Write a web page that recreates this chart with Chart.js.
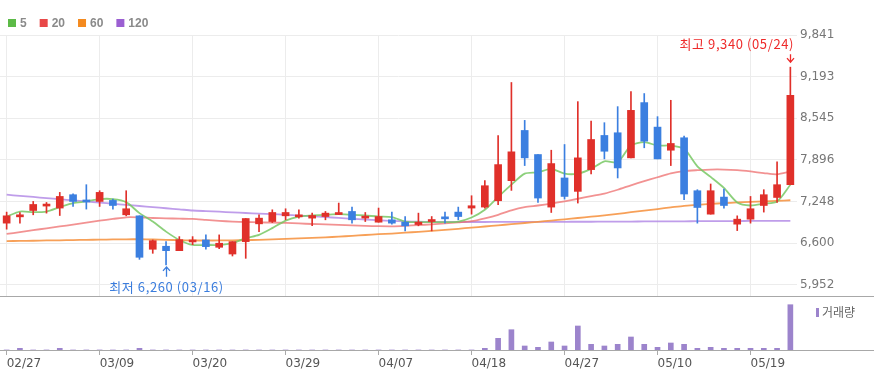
<!DOCTYPE html>
<html>
<head>
<meta charset="utf-8">
<script src="https://cdn.jsdelivr.net/npm/chart.js@4/dist/chart.umd.min.js"></script>
<style>
    body { margin: 0; background: #fff; width: 874px; height: 377px; overflow: hidden; position: relative; }
    #priceBox { position: absolute; left: 0; top: 0; }
    #volumeBox { position: absolute; left: 0; top: 297px; }
</style>
</head>
<body>
<div id="priceBox"><canvas id="priceChart" width="874" height="297"></canvas></div>
<div id="volumeBox"><canvas id="volumeChart" width="874" height="80"></canvas></div>
<script>
// trading days (2023)
const dates = ['02/27','02/28','03/02','03/03','03/06','03/07','03/08','03/09','03/10','03/13',
    '03/14','03/15','03/16','03/17','03/20','03/21','03/22','03/23','03/24','03/27',
    '03/28','03/29','03/30','03/31','04/03','04/04','04/05','04/06','04/07','04/10',
    '04/11','04/12','04/13','04/14','04/17','04/18','04/19','04/20','04/21','04/24',
    '04/25','04/26','04/27','04/28','05/02','05/03','05/04','05/08','05/09','05/10',
    '05/11','05/12','05/15','05/16','05/17','05/18','05/19','05/22','05/23','05/24'];

const openPrices = [6910,7008,7107,7176,7145,7353,7256,7248,7264,7040,
    7024,6503,6550,6481,6617,6648,6534,6429,6622,6899,
    6935,7024,7008,6988,7013,7044,7092,6988,6925,6962,
    6925,6888,6935,6998,7082,7145,7160,7259,7572,8354,
    7979,7160,7614,7405,7744,8276,8318,7927,8788,8406,
    8046,8240,7415,7050,7316,6894,6972,7185,7310,7509];
const highPrices = [7082,7076,7248,7232,7389,7368,7509,7415,7286,7415,
    7024,6648,6622,6700,6700,6727,6727,6622,6982,7040,
    7118,7134,7118,7066,7092,7223,7160,7076,7145,7082,
    7013,7066,7013,7082,7160,7337,7572,8276,9101,8511,
    7979,8046,8135,8803,8500,8475,8725,8960,8929,8569,
    8824,8265,7431,7520,7442,7024,7326,7431,7864,9340];
const lowPrices = [6816,6910,7040,7066,7029,7170,7129,7170,7129,7024,
    6346,6440,6260,6481,6575,6503,6512,6398,6362,6778,
    6919,6962,6988,6872,6962,7044,6910,6935,6925,6894,
    6789,6868,6789,6910,6962,7050,7145,7196,7420,7807,
    7232,7076,7285,7223,7677,7911,7614,7927,8084,7911,
    7807,7274,6910,7050,7145,6794,6910,7082,7232,7509];
const closePrices = [7024,7040,7201,7207,7326,7248,7240,7389,7185,7134,
    6378,6637,6481,6653,6648,6544,6597,6622,6982,6988,
    7076,7076,7035,7029,7066,7066,6962,7013,7013,6910,
    6868,6925,6950,6977,7013,7181,7493,7822,8021,7927,
    7301,7838,7326,7927,8213,8030,7770,8667,8187,7911,
    8151,7364,7154,7415,7185,6972,7134,7353,7509,8902];

const ma5 = [7013,7091,7082,7091,7160,7223,7248,7285,7285,7238,
    7066,6935,6778,6648,6570,6570,6570,6597,6675,6727,
    6832,6950,7013,7029,7040,7051,7040,7029,7013,7004,
    6935,6925,6925,6925,6935,6998,7118,7317,7509,7681,
    7702,7755,7681,7681,7755,7874,7858,8119,8171,8119,
    8119,8068,7796,7630,7458,7232,7185,7212,7248,7509];
const ma20 = [6742,6770,6800,6830,6858,6888,6918,6948,6975,7001,
    7000,6990,6985,6980,6975,6960,6945,6935,6928,6922,
    6918,6914,6905,6897,6890,6882,6875,6868,6862,6860,
    6868,6880,6890,6905,6922,6940,6985,7040,7110,7160,
    7185,7215,7250,7290,7330,7370,7430,7500,7565,7625,
    7685,7720,7735,7745,7745,7735,7715,7690,7670,7713];
const ma60 = [6630,6633,6636,6640,6643,6647,6650,6653,6656,6658,
    6659,6655,6650,6645,6640,6640,6640,6642,6645,6650,
    6658,6665,6672,6680,6688,6700,6712,6725,6738,6748,
    6762,6775,6790,6805,6822,6840,6858,6876,6894,6912,
    6930,6950,6970,6990,7010,7032,7055,7080,7105,7130,
    7155,7180,7195,7210,7222,7232,7240,7248,7256,7267];
const ma120 = [7353,7335,7318,7300,7283,7265,7248,7230,7212,7195,
    7177,7160,7142,7125,7107,7097,7088,7078,7068,7059,
    7050,7040,7028,7016,7004,6992,6978,6966,6955,6945,
    6936,6932,6930,6929,6928,6928,6928,6929,6929,6930,
    6930,6931,6931,6932,6932,6933,6934,6935,6936,6937,
    6938,6939,6940,6941,6942,6943,6944,6945,6945,6946];

// volume, thousand shares
const volumes = [4,170,3,4,170,3,5,4,3,4,
    170,5,4,3,3,2,3,2,3,3,
    2,3,2,2,3,2,3,2,2,3,
    2,3,2,3,3,4,170,1170,2030,400,
    270,800,400,2400,570,400,570,1300,570,270,
    700,570,170,270,170,170,170,170,170,4530];

const priceTicks = [5952, 6600, 7248, 7896, 8545, 9193, 9841];
const dateTicks = ['02/27','03/09','03/20','03/29','04/07','04/18','04/27','05/10','05/19'];

const UP = '#e0302a';
const DOWN = '#3b7fe0';
const AXIS_W = 77;
const maLegend = [
    { label: '5', color: '#5cba47' },
    { label: '20', color: '#e84848' },
    { label: '60', color: '#f48a1f' },
    { label: '120', color: '#9b5fd2' }
];

const candleColors = openPrices.map((o, i) => closePrices[i] >= o ? UP : DOWN);
const fmt = v => v.toLocaleString('en-US');

function keepDateTicks(scale) {
    scale.ticks = scale.ticks.filter(t => dateTicks.includes(dates[t.value]));
}

// fixed axis width, no extra layout padding from the labels
function fixAxis(scale) {
    if (scale.isHorizontal()) {
        scale.paddingLeft = 0;
        scale.paddingRight = 0;
    } else {
        scale.width = AXIS_W;
        scale.paddingTop = 0;
        scale.paddingBottom = 0;
    }
}

function drawArrow(ctx, x, yFrom, yTo, color) {
    const dir = yTo > yFrom ? 1 : -1;
    ctx.save();
    ctx.strokeStyle = color;
    ctx.lineWidth = 1.3;
    ctx.beginPath();
    ctx.moveTo(x, yFrom);
    ctx.lineTo(x, yTo);
    ctx.moveTo(x - 3.5, yTo - dir * 4);
    ctx.lineTo(x, yTo);
    ctx.lineTo(x + 3.5, yTo - dir * 4);
    ctx.stroke();
    ctx.restore();
}

// legend, panel border and high / low notes
const priceDecor = {
    id: 'priceDecor',
    afterDraw(chart) {
        const ctx = chart.ctx;
        const area = chart.chartArea;
        const xs = chart.scales.x;
        const ys = chart.scales.y;

        ctx.save();
        // MA legend
        ctx.font = 'bold 12px "Liberation Sans", Arial, sans-serif';
        ctx.textBaseline = 'middle';
        let lx = 8;
        maLegend.forEach(item => {
            ctx.fillStyle = item.color;
            ctx.fillRect(lx, 19, 8, 8);
            ctx.fillStyle = '#8a8a8a';
            ctx.fillText(item.label, lx + 12, 23.5);
            lx += 12 + ctx.measureText(item.label).width + 13;
        });

        // bottom border of price panel
        ctx.strokeStyle = '#a8a8a8';
        ctx.lineWidth = 1;
        ctx.beginPath();
        ctx.moveTo(0, area.bottom + 0.5);
        ctx.lineTo(chart.width, area.bottom + 0.5);
        ctx.stroke();

        // highest / lowest
        ctx.font = '13px "Noto Sans CJK KR", sans-serif';
        ctx.letterSpacing = '0.6px';
        const hi = Math.max(...highPrices);
        const hiIdx = highPrices.indexOf(hi);
        const lo = Math.min(...lowPrices);
        const loIdx = lowPrices.indexOf(lo);

        const hx = Math.round(xs.getPixelForValue(hiIdx)) + 0.5;
        const hy = ys.getPixelForValue(hi);
        const hiText = '최고 ' + fmt(hi) + ' (' + dates[hiIdx] + ')';
        const hw = ctx.measureText(hiText).width;
        let tx = hx - hw / 2;
        if (tx + hw > area.right - 3) tx = area.right - 3 - hw;
        ctx.fillStyle = '#ee2a2a';
        ctx.textAlign = 'left';
        ctx.fillText(hiText, tx, hy - 23);
        drawArrow(ctx, hx, hy - 13, hy - 5, '#ee2a2a');

        const bx = Math.round(xs.getPixelForValue(loIdx)) + 0.5;
        const by = ys.getPixelForValue(lo);
        const loText = '최저 ' + fmt(lo) + ' (' + dates[loIdx] + ')';
        const bw = ctx.measureText(loText).width;
        ctx.fillStyle = '#3b7ddd';
        ctx.fillText(loText, bx - bw / 2, by + 22);
        drawArrow(ctx, bx, by + 12, by + 2, '#3b7ddd');
        ctx.restore();
    }
};

const volumeDecor = {
    id: 'volumeDecor',
    afterDraw(chart) {
        const ctx = chart.ctx;
        const area = chart.chartArea;
        ctx.save();
        ctx.strokeStyle = '#a8a8a8';
        ctx.lineWidth = 1;
        ctx.beginPath();
        ctx.moveTo(0, area.bottom + 0.5);
        ctx.lineTo(chart.width, area.bottom + 0.5);
        ctx.stroke();

        ctx.fillStyle = '#9c84cc';
        ctx.fillRect(816, 11, 3, 9);
        ctx.fillStyle = '#666';
        ctx.font = '12px "Noto Sans CJK KR", sans-serif';
        ctx.textBaseline = 'middle';
        ctx.fillText('거래량', 822, 15.5);
        ctx.restore();
    }
};

function maLine(data, color) {
    return {
        type: 'line',
        data: data,
        borderColor: color,
        borderWidth: 1.8,
        pointRadius: 0,
        tension: 0.25,
        order: 2
    };
}

new Chart(document.getElementById('priceChart'), {
    type: 'bar',
    data: {
        labels: dates,
        datasets: [
            {
                // wicks
                data: lowPrices.map((l, i) => [l, highPrices[i]]),
                backgroundColor: candleColors,
                barThickness: 1,
                grouped: false,
                order: 1
            },
            {
                // bodies
                data: openPrices.map((o, i) => [o, closePrices[i]]),
                backgroundColor: candleColors,
                barThickness: 7,
                minBarLength: 2,
                grouped: false,
                order: 0
            },
            maLine(ma5, 'rgba(120,200,100,0.85)'),
            maLine(ma20, 'rgba(238,110,110,0.75)'),
            maLine(ma60, 'rgba(246,150,70,0.9)'),
            maLine(ma120, 'rgba(180,140,230,0.85)')
        ]
    },
    options: {
        responsive: false,
        animation: false,
        layout: { padding: { top: 35, bottom: 1, left: 0, right: 0 } },
        plugins: { legend: { display: false }, tooltip: { enabled: false } },
        scales: {
            x: {
                offset: true,
                grid: { color: '#ececec', offset: false, drawTicks: false },
                border: { display: false },
                ticks: { display: false, autoSkip: false },
                afterBuildTicks: keepDateTicks,
                afterFit: scale => { fixAxis(scale); scale.height = 0; }
            },
            y: {
                position: 'right',
                min: 5775,
                max: 9841,
                afterBuildTicks: scale => { scale.ticks = priceTicks.map(v => ({ value: v })); },
                afterFit: fixAxis,
                grid: { color: '#ececec', drawTicks: false },
                border: { display: false },
                ticks: {
                    padding: 3,
                    color: '#777',
                    font: { family: '"DejaVu Sans", sans-serif', size: 12 },
                    callback: v => fmt(v)
                }
            }
        }
    },
    plugins: [priceDecor]
});

new Chart(document.getElementById('volumeChart'), {
    type: 'bar',
    data: {
        labels: dates,
        datasets: [{
            data: volumes,
            backgroundColor: '#9c84cc',
            barThickness: 5
        }]
    },
    options: {
        responsive: false,
        animation: false,
        layout: { padding: 0 },
        plugins: { legend: { display: false }, tooltip: { enabled: false } },
        scales: {
            x: {
                offset: true,
                grid: { display: true, drawOnChartArea: false, drawTicks: true, tickLength: 5, color: '#aaa', offset: false },
                border: { display: false },
                ticks: {
                    align: 'start',
                    autoSkip: false,
                    maxRotation: 0,
                    padding: 2,
                    color: '#555',
                    font: { family: '"DejaVu Sans", sans-serif', size: 12 }
                },
                afterBuildTicks: keepDateTicks,
                afterFit: scale => { fixAxis(scale); scale.height = 27; }
            },
            y: {
                position: 'right',
                min: 0,
                max: 5300,
                grid: { display: false },
                border: { display: false },
                ticks: { display: false },
                afterFit: fixAxis
            }
        }
    },
    plugins: [volumeDecor]
});
</script>
</body>
</html>
